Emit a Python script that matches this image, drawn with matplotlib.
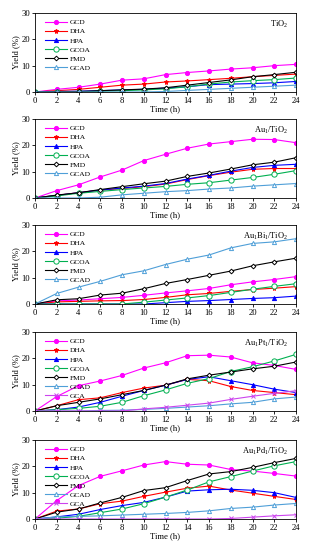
import matplotlib
matplotlib.use("Agg")
import matplotlib.pyplot as plt

plt.rcParams['font.family'] = ['Liberation Serif', 'DejaVu Serif']
plt.rcParams['mathtext.default'] = 'regular'

time_h = [0, 2, 4, 6, 8, 10, 12, 14, 16, 18, 20, 22, 24]

catalysts = ['TiO$_2$', 'Au$_1$/TiO$_2$', 'Au$_1$Bi$_1$/TiO$_2$',
             'Au$_1$Pt$_1$/TiO$_2$', 'Au$_1$Pd$_1$/TiO$_2$']

# yields (%) per catalyst
tio2 = {
    'GCD':  [0, 1.0, 1.8, 3.0, 4.5, 5.0, 6.6, 7.4, 8.0, 8.7, 9.2, 10.0, 10.5],
    'DHA':  [0, 0.5, 1.0, 1.8, 2.6, 3.0, 3.8, 4.2, 4.7, 5.2, 5.8, 6.3, 6.8],
    'HPA':  [0, 0.2, 0.3, 0.5, 0.8, 1.0, 1.5, 2.0, 2.8, 3.0, 3.2, 3.5, 4.0],
    'GCOA': [0, 0, 0, 0.3, 0.5, 0.8, 1.2, 2.0, 3.0, 3.8, 4.3, 4.7, 5.3],
    'FMD':  [0, 0.1, 0.2, 0.5, 0.8, 1.1, 1.6, 2.6, 3.6, 4.6, 5.8, 6.6, 7.5],
    'GCAD': [0, 0, 0, 0, 0, 0, 0.2, 0.6, 1.0, 1.4, 1.8, 2.2, 2.6],
}
au1 = {
    'GCD':  [0, 2.8, 5.0, 8.0, 10.6, 14.2, 16.6, 18.9, 20.5, 21.4, 22.3, 22.2, 21.0],
    'DHA':  [0, 1.0, 2.0, 3.0, 3.6, 4.3, 5.3, 7.0, 8.5, 9.8, 10.9, 11.2, 11.2],
    'HPA':  [0, 1.0, 2.0, 3.0, 3.8, 4.5, 5.5, 7.2, 8.6, 10.2, 11.6, 12.4, 12.8],
    'GCOA': [0, 0.8, 1.8, 2.5, 3.2, 3.8, 4.4, 5.2, 5.8, 6.8, 7.8, 9.0, 10.4],
    'FMD':  [0, 1.1, 2.0, 3.2, 4.3, 5.4, 6.4, 8.2, 9.5, 11.0, 12.6, 13.6, 15.3],
    'GCAD': [0, 0, 0, 0.3, 1.2, 1.8, 2.4, 2.8, 3.4, 3.8, 4.5, 5.0, 5.5],
}
au1bi1 = {
    'GCD':  [0, 1.2, 1.5, 2.0, 2.5, 3.3, 4.2, 5.0, 5.9, 7.3, 8.4, 9.3, 10.4],
    'DHA':  [0, 0.8, 1.0, 1.2, 1.3, 1.7, 2.5, 3.5, 4.0, 4.8, 5.5, 6.0, 6.6],
    'HPA':  [0, 0, 0, 0, 0, 0, 0.5, 1.0, 1.3, 1.7, 2.1, 2.4, 3.0],
    'GCOA': [0, 0, 0, 0, 0, 0.7, 1.5, 2.3, 3.2, 4.4, 5.6, 6.7, 7.7],
    'FMD':  [0, 1.6, 2.0, 3.4, 4.1, 5.8, 7.8, 9.3, 10.9, 12.5, 14.5, 16.0, 17.4],
    'GCAD': [0, 4.0, 6.4, 8.6, 11.1, 12.6, 15.0, 17.0, 18.6, 21.3, 23.0, 23.6, 24.8],
}
au1pt1 = {
    'GCD':  [0, 5.5, 9.6, 11.4, 13.5, 16.3, 18.3, 21.0, 21.2, 20.5, 18.3, 17.3, 15.8],
    'DHA':  [0, 2.0, 4.3, 5.0, 7.0, 8.7, 9.8, 12.0, 11.5, 9.3, 7.8, 7.0, 6.2],
    'HPA':  [0, 0.5, 1.5, 3.3, 5.6, 7.8, 9.8, 12.0, 13.0, 11.5, 10.0, 8.3, 7.0],
    'GCOA': [0, 0.5, 1.0, 1.8, 3.3, 5.8, 8.0, 10.5, 12.3, 15.0, 16.8, 19.0, 21.5],
    'FMD':  [0, 2.0, 3.3, 4.6, 6.2, 7.8, 9.8, 12.2, 13.6, 14.8, 16.0, 17.0, 18.6],
    'GCAD': [0, 0, 0, 0.2, 0.3, 0.6, 1.0, 1.5, 2.0, 2.7, 3.3, 4.6, 5.3],
    'GCA':  [0, 0, 0, 0, 0, 0.8, 1.4, 2.2, 3.0, 4.4, 5.6, 6.7, 7.7],
}
au1pd1 = {
    'GCD':  [0, 7.0, 12.7, 16.2, 18.3, 20.5, 21.8, 20.8, 20.5, 18.8, 18.2, 17.3, 16.3],
    'DHA':  [0, 3.0, 3.8, 5.8, 6.8, 8.6, 10.2, 11.7, 12.5, 11.0, 9.8, 8.6, 7.4],
    'HPA':  [0, 0.8, 1.8, 3.6, 5.1, 6.3, 8.3, 10.6, 11.1, 11.3, 10.9, 10.0, 8.2],
    'GCOA': [0, 0.3, 1.0, 2.4, 3.8, 5.8, 8.3, 11.0, 14.1, 16.1, 18.2, 20.2, 21.8],
    'FMD':  [0, 2.6, 3.8, 6.1, 8.2, 10.8, 11.9, 14.6, 17.1, 18.0, 19.6, 21.4, 23.0],
    'GCAD': [0, 0.8, 1.0, 1.2, 1.5, 1.8, 2.1, 2.5, 3.1, 4.0, 4.5, 5.3, 5.9],
    'GCA':  [0, 0, 0, 0, 0, 0, 0, 0, 0, 0.2, 0.7, 1.2, 1.6],
}
panels = [tio2, au1, au1bi1, au1pt1, au1pd1]

# colour, marker, filled?, marker size
styles = {
    'GCD':  ('#FF00FF', 'o', True, 3.0),
    'DHA':  ('#FF0000', '*', True, 3.6),
    'HPA':  ('#0000FF', '^', True, 3.0),
    'GCOA': ('#00B050', 'o', False, 3.8),
    'FMD':  ('#000000', 'D', False, 2.4),
    'GCAD': ('#4F9FD8', '^', False, 3.0),
    'GCA':  ('#CC44EE', 'x', False, 3.2),
}

fig = plt.figure(figsize=(3.1, 5.5), dpi=100)
tops = [13, 119, 225, 332, 440]
h = 79

for top, name, data in zip(tops, catalysts, panels):
    ax = fig.add_axes([35 / 310, 1 - (top + h) / 550, 261 / 310, h / 550])
    for series, vals in data.items():
        c, m, filled, ms = styles[series]
        ax.plot(time_h, vals, color=c, marker=m, markersize=ms, lw=0.8,
                markerfacecolor=c if filled else 'white',
                markeredgecolor=c, markeredgewidth=0.7, label=series)
    ax.set_xlim(0, 24)
    ax.set_ylim(0, 30)
    ax.set_xticks(range(0, 25, 2))
    ax.set_yticks([0, 10, 20, 30])
    ax.tick_params(labelsize=6.2, length=2, width=0.6, pad=1.5)
    for s in ax.spines.values():
        s.set_linewidth(0.6)
    ax.set_xlabel('Time (h)', fontsize=6.2, labelpad=0)
    ax.set_ylabel('Yield (%)', fontsize=6.2, labelpad=1)
    ax.text(0.97, 0.86, name, transform=ax.transAxes, ha='right', va='center',
            fontsize=6)
    ax.legend(loc='upper left', frameon=False, fontsize=5.4, handlelength=3.0,
              handletextpad=0.4, labelspacing=0.38, borderaxespad=0.2,
              bbox_to_anchor=(0.02, 0.98))

fig.savefig('out.png', dpi=100)
